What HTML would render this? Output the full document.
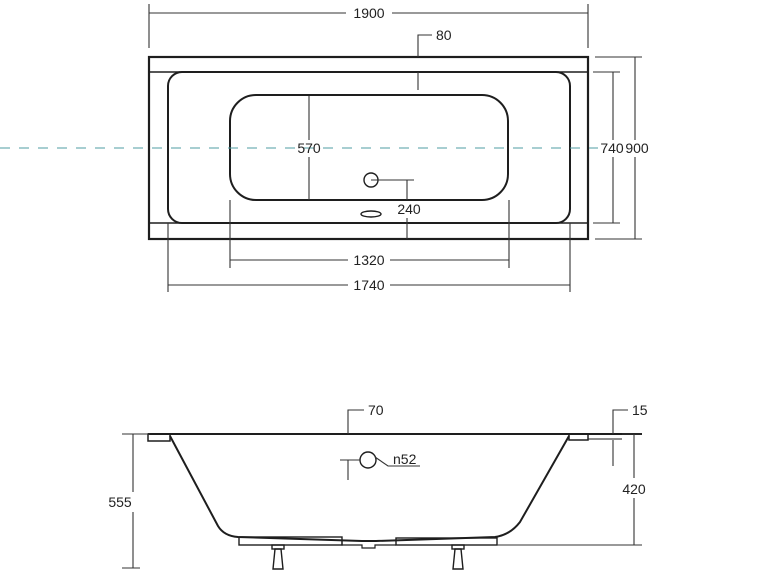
<!DOCTYPE html>
<html><head><meta charset="utf-8"><style>
html,body{margin:0;padding:0;background:#fff;}
svg{display:block;}
text{font-family:"Liberation Sans",sans-serif;font-size:14px;fill:#222;}
</style></head><body>
<svg width="770" height="578" viewBox="0 0 770 578" xmlns="http://www.w3.org/2000/svg">
<g fill="none" stroke="#1e1e1e">
<!-- top view -->
<rect x="149" y="57" width="439" height="182" stroke-width="2.2"/>
<line x1="149" y1="72" x2="588" y2="72" stroke-width="1.6"/>
<line x1="149" y1="223" x2="588" y2="223" stroke-width="1.6"/>
<rect x="168" y="72" width="402" height="151" rx="14" stroke-width="2"/>
<rect x="230" y="95" width="278" height="105" rx="26" stroke-width="2"/>
<circle cx="371" cy="180" r="7" stroke-width="1.4"/>
<ellipse cx="371" cy="214" rx="10" ry="3" stroke-width="1.4"/>
<g stroke-width="1.1" stroke="#333">
<line x1="149" y1="4" x2="149" y2="48"/><line x1="588" y1="4" x2="588" y2="48"/>
<line x1="149" y1="13" x2="346" y2="13"/><line x1="392" y1="13" x2="588" y2="13"/>
<polyline points="418,57 418,35 432,35"/><line x1="418" y1="72" x2="418" y2="90"/>
<line x1="309" y1="96" x2="309" y2="140"/><line x1="309" y1="157" x2="309" y2="200"/>
<polyline points="371,180 414,180"/><line x1="407" y1="180" x2="407" y2="200"/><line x1="407" y1="218" x2="407" y2="239"/>
<line x1="230" y1="200" x2="230" y2="268"/><line x1="509" y1="200" x2="509" y2="268"/>
<line x1="230" y1="260" x2="348" y2="260"/><line x1="390" y1="260" x2="509" y2="260"/>
<line x1="168" y1="223" x2="168" y2="292"/><line x1="570" y1="223" x2="570" y2="292"/>
<line x1="168" y1="285" x2="348" y2="285"/><line x1="390" y1="285" x2="570" y2="285"/>
<line x1="593" y1="72" x2="620" y2="72"/><line x1="593" y1="223" x2="620" y2="223"/>
<line x1="613" y1="72" x2="613" y2="140"/><line x1="613" y1="157" x2="613" y2="223"/>
<line x1="595" y1="57" x2="642" y2="57"/><line x1="595" y1="239" x2="642" y2="239"/>
<line x1="635" y1="57" x2="635" y2="140"/><line x1="635" y1="157" x2="635" y2="239"/>
</g>
<line x1="0" y1="148" x2="598" y2="148" stroke="#4f9ea3" stroke-width="1.1" stroke-dasharray="10,9"/>

<!-- side view -->
<line x1="148" y1="434" x2="642" y2="434" stroke-width="2"/>
<rect x="148" y="434" width="22" height="7" stroke-width="1.5"/>
<rect x="569" y="434" width="19" height="6" stroke-width="1.5"/>
<line x1="588" y1="439" x2="622" y2="439" stroke-width="1.1"/>
<path d="M170,436 L218,526 Q224,536 238,537 L362,541 L376,541 L495,537 Q510,535 520,522 L569,436" stroke-width="2"/>
<rect x="239" y="537" width="103" height="8" stroke-width="1.4"/>
<rect x="396" y="538" width="101" height="7" stroke-width="1.4"/>
<polyline points="342,541 342,545 362,545 362,548 375,548 375,545 396,545" stroke-width="1.2"/>
<g stroke-width="1.4">
<rect x="272" y="545" width="12" height="4"/><path d="M275,549 L281,549 L283,569 L273,569 Z"/>
<rect x="452" y="545" width="12" height="4"/><path d="M455,549 L461,549 L463,569 L453,569 Z"/>
</g>
<circle cx="368" cy="460" r="8" stroke-width="1.4"/>
<g stroke-width="1.1" stroke="#333">
<line x1="340" y1="460" x2="360" y2="460"/><line x1="348" y1="460" x2="348" y2="480"/>
<polyline points="375,457 388,466 420,466"/>
<polyline points="348,434 348,410 364,410"/>
<polyline points="613,434 613,410 628,410"/><line x1="613" y1="440" x2="613" y2="466"/>
<line x1="622" y1="434" x2="642" y2="434"/>
<line x1="497" y1="545" x2="642" y2="545"/>
<line x1="634" y1="434" x2="634" y2="478"/><line x1="634" y1="498" x2="634" y2="545"/>
<line x1="122" y1="434" x2="150" y2="434"/><line x1="122" y1="568" x2="140" y2="568"/>
<line x1="133" y1="434" x2="133" y2="492"/><line x1="133" y1="512" x2="133" y2="568"/>
</g>
</g>
<g>
<text x="369" y="18" text-anchor="middle">1900</text>
<text x="436" y="40">80</text>
<text x="309" y="153" text-anchor="middle">570</text>
<text x="409" y="214" text-anchor="middle">240</text>
<text x="369" y="265" text-anchor="middle">1320</text>
<text x="369" y="290" text-anchor="middle">1740</text>
<text x="612" y="153" text-anchor="middle">740</text>
<text x="637" y="153" text-anchor="middle">900</text>
<text x="368" y="415">70</text>
<text x="632" y="415">15</text>
<text x="393" y="464" font-size="13">n52</text>
<text x="634" y="494" text-anchor="middle">420</text>
<text x="120" y="507" text-anchor="middle">555</text>
</g>
</svg>
</body></html>
